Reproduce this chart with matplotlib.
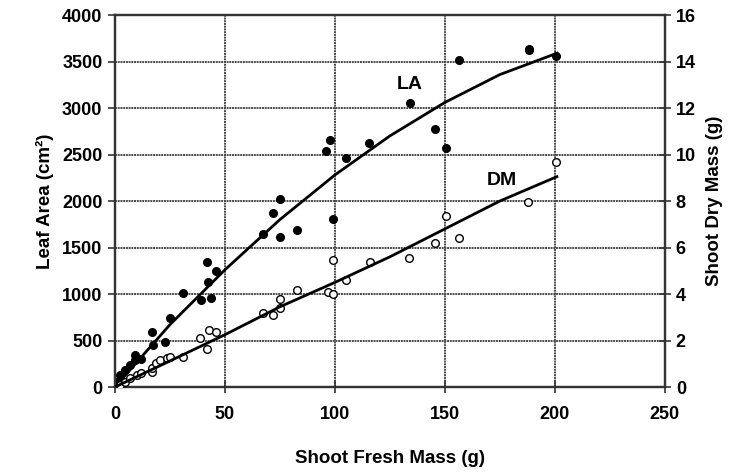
import numpy as np
import matplotlib
matplotlib.use("Agg")
import matplotlib.pyplot as plt

plt.rcParams['font.family'] = ['Liberation Sans', 'DejaVu Sans']
plt.rcParams['font.weight'] = 'bold'

# leaf area (filled points)
la_x = [0.8, 2.3, 4.5, 6.8, 9.1, 9.1, 11.8, 16.7, 17.4, 22.7, 25, 31, 39, 42,
        42.4, 43.5, 46, 67.4, 71.7, 75, 75, 82.6, 96.2, 98, 99, 105.3, 115.5,
        134, 145.5, 150.5, 156.4, 188.5, 188.5, 200.8]
la_y = [57, 129, 183, 236, 290, 344, 300, 588, 451, 487, 738, 1007, 935, 1340,
        1132, 953, 1247, 1641, 1867, 2021, 1616, 1688, 2540, 2655, 1803, 2465,
        2620, 3050, 2770, 2573, 3515, 3640, 3620, 3562]

# shoot dry mass (open points)
dm_x = [2.3, 4.5, 6.8, 10, 12.1, 16.7, 16.7, 18.9, 20.5, 23.5, 25, 31, 38.6,
        41.7, 42.9, 45.9, 67.4, 72, 75, 75, 82.6, 97, 99, 99.2, 105.3, 115.9,
        133.8, 145.5, 150.5, 156.4, 187.9, 200.8]
dm_y = [0.09, 0.23, 0.37, 0.53, 0.59, 0.66, 0.80, 1.05, 1.16, 1.23, 1.28, 1.30,
        2.09, 1.64, 2.45, 2.36, 3.17, 3.10, 3.38, 3.77, 4.17, 4.07, 4.0, 5.45,
        4.6, 5.39, 5.53, 6.21, 7.35, 6.42, 7.97, 9.69]

# fitted curves
fit_x = [0, 25, 50, 75, 100, 125, 150, 175, 201]
la_fit = [0, 670, 1260, 1800, 2280, 2700, 3060, 3360, 3590]
dm_fit = [0, 1.12, 2.25, 3.45, 4.5, 5.6, 6.8, 8.0, 9.05]

fig = plt.figure(figsize=(7.46, 4.72), dpi=100)
ax = fig.add_axes([0.154, 0.180, 0.737, 0.788])
ax2 = ax.twinx()

ax.plot(la_x, la_y, 'o', color='black', ms=5.5, zorder=3)
ax.plot(fit_x, la_fit, '-', color='black', lw=2, zorder=3)
ax2.plot(dm_x, dm_y, 'o', mfc='white', mec='black', mew=1, ms=5.5, zorder=3)
ax2.plot(fit_x, dm_fit, '-', color='black', lw=2, zorder=3)

ax.set_xlim(0, 250)
ax.set_ylim(0, 4000)
ax2.set_ylim(0, 16)
ax.set_xticks(np.arange(0, 251, 50))
ax.set_yticks(np.arange(0, 4001, 500))
ax2.set_yticks(np.arange(0, 17, 2))

ax.grid(True, color='#4a4a4a', lw=1.4, ls=(0, (1, 0.4)))
ax.set_axisbelow(True)
for a in (ax, ax2):
    for s in a.spines.values():
        s.set_color('#333333')
        s.set_linewidth(1.6)

ax.tick_params(axis='x', direction='inout', length=8, width=1.2,
               labelsize=13, pad=10, color='#333333')
ax.tick_params(axis='y', direction='out', length=5, width=1.2,
               labelsize=13, pad=4, color='#333333')
ax2.tick_params(axis='y', direction='inout', length=8, width=1.2,
                labelsize=13, pad=4, color='#333333')

ax.set_xlabel('Shoot Fresh Mass (g)', fontsize=13.5, fontweight='bold', labelpad=19)
ax.set_ylabel('Leaf Area (cm²)', fontsize=13.5, fontweight='bold', labelpad=6)
ax2.set_ylabel('Shoot Dry Mass (g)', fontsize=13.5, fontweight='bold', labelpad=7)

ax.text(134, 3250, 'LA', fontsize=14, fontweight='bold', ha='center', va='center')
ax2.text(176, 8.9, 'DM', fontsize=14, fontweight='bold', ha='center', va='center')

fig.savefig('out.png', dpi=100)
